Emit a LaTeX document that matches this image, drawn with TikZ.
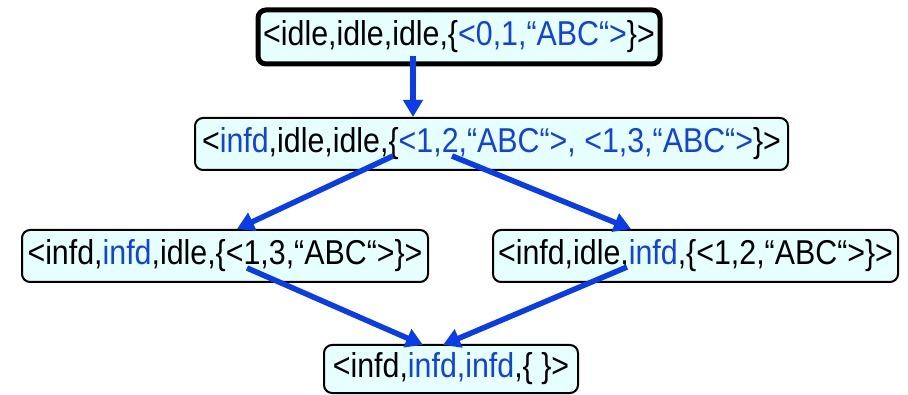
\documentclass[tikz,border=0pt]{standalone}
\usepackage{fontspec}
\setmainfont{Liberation Sans}
\usetikzlibrary{arrows.meta}
\definecolor{boxfill}{HTML}{E6FFFF}
\definecolor{txtblue}{HTML}{1440E0}
\definecolor{arrblue}{HTML}{0A3CE8}
\newcommand{\bl}[1]{\textcolor{txtblue}{#1}}
\newcommand{\sttxt}[1]{\scalebox{0.88}[1]{\fontsize{34.5}{40}\selectfont #1}}
\begin{document}
\begin{tikzpicture}[x=1pt,y=-1pt,
  state/.style={draw=black,line width=2pt,fill=boxfill,rounded corners=8pt,
    inner sep=0pt},
  flow/.style={draw=arrblue,line width=5.5pt,-{Triangle[length=17pt,width=19pt]}}]
\useasboundingbox (0,0) rectangle (908,395);
\node[state,line width=5pt,minimum width=402pt,minimum height=54pt] (top) at (459,37)
  {\sttxt{<idle,idle,idle,\{\bl{<0,1,“ABC“>}\}>}};
\node[state,minimum width=593pt,minimum height=52pt] (mid) at (491.5,144)
  {\sttxt{<\bl{infd},idle,idle,\{\bl{<1,2,“ABC“>, <1,3,“ABC“>}\}>}};
\node[state,minimum width=406pt,minimum height=52pt] (left) at (225,256)
  {\sttxt{<infd,\bl{infd},idle,\{<1,3,“ABC“>\}>}};
\node[state,minimum width=405pt,minimum height=52pt] (right) at (695.5,256)
  {\sttxt{<infd,idle,\bl{infd},\{<1,2,“ABC“>\}>}};
\node[state,minimum width=254pt,minimum height=48pt] (bot) at (451,369)
  {\sttxt{<infd,\bl{infd,infd},\{ \}>}};
\coordinate (s1) at (413,56);
\coordinate (s2) at (393,156);
\coordinate (t2) at (237,229);
\coordinate (s3) at (452,156);
\coordinate (t3) at (631,229);
\coordinate (s4) at (247,268);
\coordinate (t4) at (423,345);
\coordinate (s5) at (627,267);
\coordinate (t5) at (443,345);
\draw[flow] (s1) -- (s1 |- mid.north);
\draw[flow] (s2) -- (t2);
\draw[flow] (s3) -- (t3);
\draw[flow] (s4) -- (t4);
\draw[flow] (s5) -- (t5);
\end{tikzpicture}
\end{document}
